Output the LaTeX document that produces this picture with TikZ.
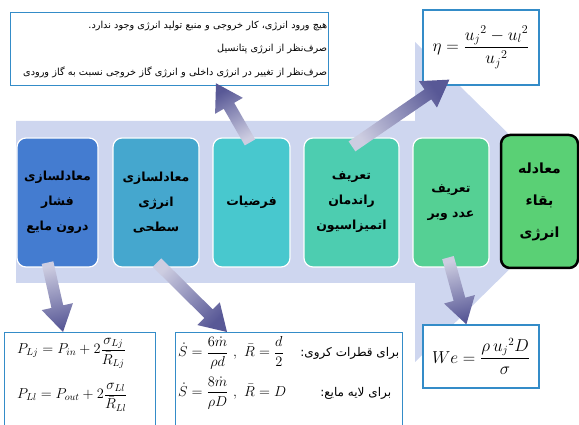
\documentclass[tikz,border=0pt]{standalone}
\usepackage{amsmath}
\usepackage{fontspec}
\newfontfamily\farsi[Script=Arabic]{DejaVu Sans}
\TeXXeTstate=1
\usetikzlibrary{calc,positioning}
\definecolor{bgarrow}{RGB}{206,214,239}
\definecolor{stageA}{RGB}{68,124,208}
\definecolor{stageB}{RGB}{69,167,206}
\definecolor{stageC}{RGB}{72,200,206}
\definecolor{stageD}{RGB}{77,205,176}
\definecolor{stageE}{RGB}{85,208,148}
\definecolor{stageF}{RGB}{90,208,117}
\definecolor{boxblue}{RGB}{52,140,200}
\definecolor{arrowlight}{RGB}{205,205,225}
\definecolor{arrowdark}{RGB}{88,88,150}
\newcommand{\fa}[1]{{\farsi\beginR #1\endR}}
% block arrow with gradient, tail #1, tip #2
\newcommand{\flowarrow}[2]{%
  \path (#1); \pgfgetlastxy{\fax}{\fay}%
  \path (#2); \pgfgetlastxy{\fbx}{\fby}%
  \pgfmathsetmacro{\fang}{atan2(\fby-\fay,\fbx-\fax)-90}%
  \coordinate (fneck) at ($(#2)!26pt!(#1)$);
  \path[shading=axis, top color=arrowdark, bottom color=arrowlight, shading angle=\fang]
    ($(#1)!6pt!90:(#2)$) -- ($(fneck)!6pt!-90:(#1)$) -- ($(fneck)!16pt!-90:(#1)$)
    -- (#2) -- ($(fneck)!16pt!90:(#1)$) -- ($(fneck)!6pt!90:(#1)$)
    -- ($(#1)!6pt!-90:(#2)$) -- cycle;
}
\begin{document}
\begin{tikzpicture}[x=1pt,y=1pt,
  stage/.style={rounded corners=9pt, draw=white, line width=1.2pt, minimum height=129pt,
    inner sep=1pt, align=center, font=\farsi\bfseries\fontsize{12.5}{25}\selectfont},
  infobox/.style={draw=boxblue, line width=1.3pt, fill=white, inner sep=2pt},
  formula/.style={inner sep=0pt, font=\fontsize{14.5}{16}\selectfont}]
\useasboundingbox (0,0) rectangle (579,425);
% background arrow
\fill[bgarrow] (16,304) -- (415,304) -- (415,383) -- (578,223) -- (415,63) -- (415,142) -- (16,142) -- cycle;
% stages
\node[stage, fill=stageA, minimum width=81pt] (press) at (57.5,222.5)
  {\fa{معادلسازی}\\\fa{فشار}\\\fa{درون مایع}};
\node[stage, fill=stageB, minimum width=86pt] (surf) at (156,222.5)
  {\fa{معادلسازی}\\\fa{انرژی}\\\fa{سطحی}};
\node[stage, fill=stageC, minimum width=77pt] (assum) at (251.5,222.5) {\fa{فرضیات}};
\node[stage, fill=stageD, minimum width=95pt] (eff) at (351.5,222.5)
  {\fa{تعریف}\\\fa{راندمان}\\\fa{اتمیزاسیون}};
\node[stage, fill=stageE, minimum width=76pt] (weber) at (451,222.5)
  {\fa{تعریف}\\\fa{عدد وبر}};
\node[stage, fill=stageF, draw=black, line width=2.5pt, minimum width=77pt, minimum height=133pt,
  font=\farsi\bfseries\fontsize{14}{32}\selectfont] (cons) at (539.5,223.5)
  {\fa{معادله}\\\fa{بقاء}\\\fa{انرژی}};
% info boxes
\node[infobox, minimum width=318pt, minimum height=73pt, text width=315pt, inner xsep=1pt, align=right,
  anchor=north west, font=\farsi\fontsize{9.7}{23.5}\selectfont] (hyp) at (10,413)
  {\fa{هیچ ورود انرژی، کار خروجی و منبع تولید انرژی وجود ندارد.}\\
   \fa{صرف^^^^200cنظر از انرژی پتانسیل}\\
   \fa{صرف^^^^200cنظر از تغییر در انرژی داخلی و انرژی گاز خروجی نسبت به گاز ورودی}};
\node[infobox, minimum width=116pt, minimum height=75pt, font=\fontsize{17}{19}\selectfont] (eta) at (481,377.5)
  {$\eta=\dfrac{{u_j}^{2}-{u_l}^{2}}{{u_j}^{2}}$};
\node[infobox, minimum width=116pt, minimum height=63pt, font=\fontsize{16}{18}\selectfont] (we) at (481,68.5)
  {$We=\dfrac{\rho\, {u_j}^{2} D}{\sigma}$};
\node[infobox, minimum width=151pt, minimum height=110pt, anchor=north west] (pbox) at (4,93) {};
\node[infobox, minimum width=227pt, minimum height=110pt, anchor=north west] (sbox) at (175,93) {};
% formulas
\node[formula, anchor=west] (pin) at ($(pbox.north west)+(13,-21)$)
  {$P_{Lj}=P_{in}+2\dfrac{\sigma_{Lj}}{\bar R_{Lj}}$};
\node[formula, anchor=west] (pout) at ($(pbox.north west)+(13,-65)$)
  {$P_{Ll}=P_{out}+2\dfrac{\sigma_{Ll}}{\bar R_{Ll}}$};
\node[formula, anchor=west] (sdrop) at ($(sbox.north west)+(3,-21)$)
  {$\dot S=\dfrac{6\dot m}{\rho d}\ ,\ \bar R=\dfrac{d}{2}$};
\node[formula, anchor=east, font=\farsi\fontsize{12}{14}\selectfont] (tdrop) at ($(sbox.north east)+(-4,-21)$)
  {\fa{برای قطرات کروی:}};
\node[formula, anchor=west] (sfilm) at ($(sbox.north west)+(3,-61)$)
  {$\dot S=\dfrac{8\dot m}{\rho D}\ ,\ \bar R=D$};
\node[formula, anchor=east, font=\farsi\fontsize{12}{14}\selectfont] (tfilm) at ($(sbox.north east)+(-12,-61)$)
  {\fa{برای لایه مایع:}};
% arrows
\coordinate (a1s) at ($(press.south)+(-10,5)$);
\coordinate (a1e) at ($(pbox.north west)+(59,0)$);
\coordinate (a2s) at ($(surf.south)+(1,5)$);
\coordinate (a2e) at ($(sbox.north west)+(52,0)$);
\coordinate (a3s) at ($(assum.north)+(-1.5,-5)$);
\coordinate (a3e) at ($(hyp.south west)+(206,3)$);
\coordinate (a4s) at ($(eff.north)+(0.5,-9)$);
\coordinate (a4e) at ($(eta.south west)+(27,6)$);
\coordinate (a5s) at ($(weber.south)+(-3,10)$);
\coordinate (a5e) at ($(we.north west)+(44,0)$);
\flowarrow{a1s}{a1e}
\flowarrow{a2s}{a2e}
\flowarrow{a3s}{a3e}
\flowarrow{a4s}{a4e}
\flowarrow{a5s}{a5e}
\end{tikzpicture}
\end{document}
